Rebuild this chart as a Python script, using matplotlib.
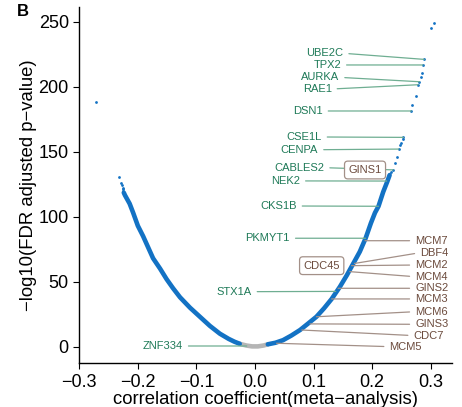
import numpy as np
import matplotlib
matplotlib.use("Agg")
import matplotlib.pyplot as plt

plt.rcParams['font.family'] = ['Liberation Sans', 'DejaVu Sans']

# dense band of genes along the curve
left_x = [-0.224, -0.222, -0.214, -0.208, -0.200, -0.191, -0.182, -0.174, -0.162,
          -0.151, -0.140, -0.128, -0.111, -0.094, -0.077, -0.060, -0.045, -0.035, -0.026]
left_y = [118.5, 116.5, 110, 103, 93, 85, 76, 68, 60,
          52, 45, 38, 30, 23, 16, 10, 6, 3.8, 2.2]
right_x = [0.022, 0.035, 0.048, 0.062, 0.077, 0.090, 0.105, 0.118, 0.131, 0.145,
           0.157, 0.168, 0.179, 0.189, 0.198, 0.205, 0.211, 0.219, 0.226, 0.230]
right_y = [1.8, 3.0, 5.0, 8.5, 12.8, 17.5, 23, 29.5, 36.7, 46,
           55, 64, 73, 83.4, 95, 103, 108, 119, 127, 132]
grey_x = [-0.026, -0.015, -0.005, 0.005, 0.015, 0.022]
grey_y = [2.2, 0.9, 0.2, 0.2, 0.9, 1.8]

# sparse genes at the top of both branches
top_x = [-0.272, -0.2325, -0.229, -0.2275, -0.226, -0.2255, -0.2245,
         0.233, 0.236, 0.239, 0.242, 0.2456, 0.248, 0.250, 0.2525, 0.2536,
         0.267, 0.269, 0.275, 0.2786, 0.281, 0.284, 0.2855, 0.287, 0.289, 0.301, 0.3065]
top_y = [188, 130.2, 126, 124, 122, 121, 119.5,
         134, 136, 141, 146, 152, 155, 157, 159.5, 161,
         181.3, 186, 192.8, 201.5, 203.8, 207.7, 210.3, 216.7, 221, 245.4, 249]

# labelled genes
green_genes = ['UBE2C', 'TPX2', 'AURKA', 'RAE1', 'DSN1', 'CSE1L', 'CENPA',
               'CABLES2', 'NEK2', 'CKS1B', 'PKMYT1', 'STX1A', 'ZNF334']
green_x = [0.289, 0.287, 0.281, 0.2786, 0.267, 0.2536, 0.2456,
           0.236, 0.225, 0.211, 0.189, 0.138, -0.014]
green_y = [221, 216.7, 203.8, 201.5, 181.3, 161, 152,
           136, 127.4, 108, 83.4, 42.5, 0.5]
brown_genes = ['MCM7', 'DBF4', 'MCM2', 'MCM4', 'GINS2', 'MCM3', 'MCM6',
               'GINS3', 'CDC7', 'MCM5']
brown_x = [0.188, 0.170, 0.165, 0.162, 0.142, 0.131, 0.105, 0.094, 0.080, 0.037]
brown_y = [81.5, 64, 62.3, 57.7, 44.9, 36.7, 23, 17.5, 12.8, 2.6]
boxed_genes = ['GINS1', 'CDC45']
boxed_x = [0.233, 0.163]
boxed_y = [135, 60]

# label placement (layout)
green_lx = [0.151, 0.147, 0.144, 0.131, 0.1157, 0.114, 0.108,
            0.1185, 0.077, 0.0713, 0.0598, -0.0056, -0.123]
green_ly = [225.7, 216.7, 207.2, 198.2, 181.3, 161.3, 151.5,
            137.7, 127.5, 108.2, 83.4, 42.3, 0.5]
brown_lx = [0.2735, 0.282, 0.2735, 0.2735, 0.2735, 0.2735, 0.2735, 0.2735, 0.2706, 0.2296]
brown_ly = [81.5, 72.3, 62.8, 53.8, 44.9, 36.7, 26.9, 17.2, 8.5, 0]
boxed_lx = [0.188, 0.114]
boxed_ly = [135.9, 62.3]

blue = '#1372c4'
green_txt = '#1f7a58'
green_line = '#6fae92'
brown_txt = '#6b4a3c'
brown_line = '#a39088'

fig = plt.figure(figsize=(4.62, 4.07), dpi=100)
ax = fig.add_axes([0.1716, 0.1074, 0.8061, 0.8754])

ax.plot(grey_x, grey_y, color='#b5b5b5', lw=3.3, solid_capstyle='round', zorder=2)
ax.plot(left_x, left_y, color=blue, lw=3.3, solid_capstyle='round', zorder=3)
ax.plot(right_x, right_y, color=blue, lw=3.3, solid_capstyle='round', zorder=3)
ax.scatter(top_x, top_y, s=4, color=blue, linewidths=0, zorder=3)

for g, px, py, lx, ly in zip(green_genes, green_x, green_y, green_lx, green_ly):
    ax.annotate(g, xy=(px, py), xytext=(lx, ly), ha='right', va='center',
                fontsize=8, color=green_txt,
                arrowprops=dict(arrowstyle='-', color=green_line, lw=0.9,
                                shrinkA=2, shrinkB=0, relpos=(1, 0.5)),
                zorder=4)

for g, px, py, lx, ly in zip(brown_genes, brown_x, brown_y, brown_lx, brown_ly):
    ax.annotate(g, xy=(px, py), xytext=(lx, ly), ha='left', va='center',
                fontsize=8, color=brown_txt,
                arrowprops=dict(arrowstyle='-', color=brown_line, lw=0.9,
                                shrinkA=2, shrinkB=0, relpos=(0, 0.5)),
                zorder=4)

for g, px, py, lx, ly in zip(boxed_genes, boxed_x, boxed_y, boxed_lx, boxed_ly):
    ax.text(lx, ly, g, ha='center', va='center', fontsize=8, color=brown_txt,
            bbox=dict(boxstyle='round,pad=0.35,rounding_size=0.3', fc='white',
                      ec=brown_line, lw=0.9), zorder=6)

ax.set_xlim(-0.3, 0.336)
ax.set_ylim(-12.8, 261.3)
ax.set_xticks([-0.3, -0.2, -0.1, 0.0, 0.1, 0.2, 0.3])
ax.set_xticklabels(['\u22120.3', '\u22120.2', '\u22120.1', '0.0', '0.1', '0.2', '0.3'])
ax.set_yticks([0, 50, 100, 150, 200, 250])
ax.tick_params(labelsize=13, length=4, width=0.8, colors='black')
ax.spines['top'].set_visible(False)
ax.spines['right'].set_visible(False)
ax.spines['left'].set_linewidth(1.0)
ax.spines['bottom'].set_linewidth(1.0)
ax.set_xlabel('correlation coefficient(meta\u2212analysis)', fontsize=13.3, labelpad=0)
ax.set_ylabel('\u2212log10(FDR adjusted p\u2212value)', fontsize=13.3, labelpad=1)

fig.text(23 / 462, 1 - 12 / 407, 'B', fontsize=12, fontweight='bold',
         ha='center', va='center')

fig.savefig('out.png', dpi=100)
